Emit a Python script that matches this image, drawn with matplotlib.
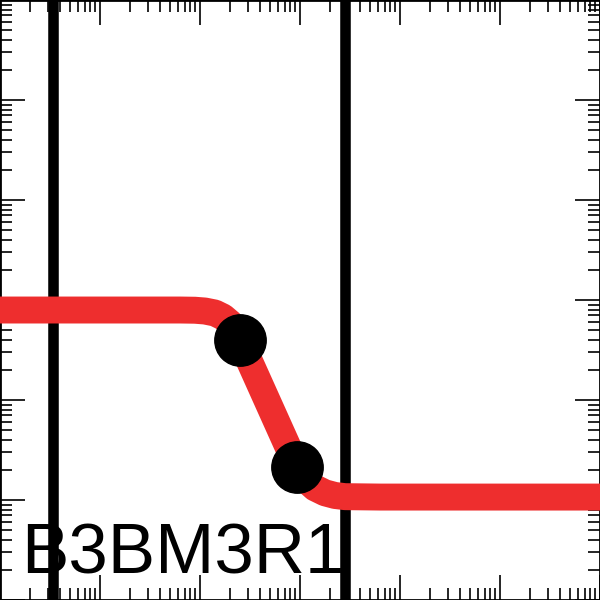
import matplotlib
matplotlib.use("Agg")
import matplotlib.pyplot as plt
from matplotlib.ticker import LogLocator, NullFormatter

# data
curve_x = [1, 63.1, 89, 112, 141, 170, 200, 251, 933, 1122, 1413, 1778, 2239, 2818, 6310, 1e6]
curve_y = [794, 794, 790, 776, 741, 676, 589, 398, 21.4, 16.2, 13.2, 11.8, 11.1, 10.8, 10.7, 10.7]
point_x = [251, 933]
point_y = [398, 21.4]
vline_x = [3.39, 2818]
label = "B3BM3R1"

fig = plt.figure(figsize=(6, 6), dpi=100)
ax = fig.add_axes([0, 0, 1, 1])
ax.set_xscale("log")
ax.set_yscale("log")
ax.set_xlim(1, 1e6)
ax.set_ylim(1, 1e6)

for vx in vline_x:
    ax.axvline(vx, color="black", lw=7.6, zorder=2)
ax.plot(curve_x, curve_y, color="#ee2e2e", lw=19.4, solid_capstyle="butt",
        solid_joinstyle="round", zorder=3)
ax.plot(point_x, point_y, "o", color="black", ms=37, zorder=4)

ax.text(21 / 600, 27 / 600, label, transform=ax.transAxes, fontsize=51,
        family=["Liberation Sans", "DejaVu Sans"], va="baseline", ha="left",
        color="black", zorder=5)

for axis in (ax.xaxis, ax.yaxis):
    axis.set_major_locator(LogLocator(base=10, numticks=20))
    axis.set_minor_locator(LogLocator(base=10, subs=range(2, 10), numticks=20))
    axis.set_major_formatter(NullFormatter())
    axis.set_minor_formatter(NullFormatter())
ax.tick_params(which="both", direction="in", top=True, right=True,
               bottom=True, left=True, width=1.2, color="black")
ax.tick_params(which="major", length=18)
ax.tick_params(which="minor", length=8.6)
for s in ax.spines.values():
    s.set_linewidth(2)

fig.savefig("out.png", dpi=100)
